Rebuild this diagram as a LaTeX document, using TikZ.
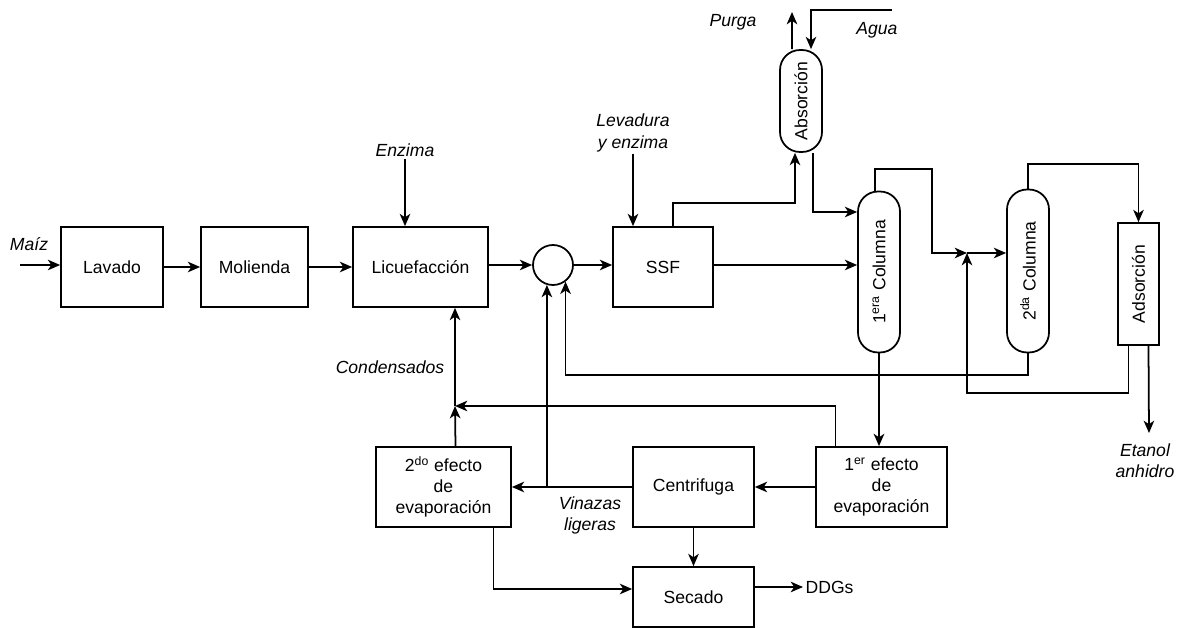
\documentclass[tikz,border=0pt]{standalone}
\usepackage{fontspec}
\setmainfont{Liberation Sans}
\usepackage{graphicx}
\usetikzlibrary{arrows.meta}
\begin{document}
\begin{tikzpicture}[x=0.02cm,y=-0.02cm,line width=1pt,
    font=\fontsize{10}{12}\selectfont,
    box/.style={draw,rectangle,minimum width=#1,minimum height=1.6cm,align=center,inner sep=1pt},
    tower/.style={draw,rounded corners=0.4cm,minimum width=0.84cm,minimum height=#1,inner sep=1pt},
    flow/.style={-{Stealth[length=7pt,width=6pt,inset=2pt]}},
    stream/.style={font=\fontsize{10}{12}\selectfont\itshape,align=center,inner sep=1pt}]
    \useasboundingbox (0,0) rectangle (1178,628);

    % main line
    \node[box=2.04cm] (lavado) at (112,267) {Lavado};
    \node[box=2.14cm] (molienda) at (254.5,267) {Molienda};
    \node[box=2.7cm] (licuef) at (420.5,267) {Licuefacción};
    \node[draw,circle,minimum size=0.8cm,inner sep=0pt] (mixer) at (553,265) {};
    \node[box=2cm] (ssf) at (663,267) {SSF};

    % columns
    \node[tower=2.04cm] (absorcion) at (801,101) {\rotatebox{90}{Absorción}};
    \node[tower=3.22cm] (col1) at (879,272) {\rotatebox{90}{1\textsuperscript{era} Columna}};
    \node[tower=3.26cm] (col2) at (1028,271) {\rotatebox{90}{2\textsuperscript{da} Columna}};
    \node[draw,minimum width=0.82cm,minimum height=2.44cm,inner sep=1pt] (adsorcion) at (1138.5,284) {\rotatebox{90}{Adsorción}};

    % bottom line
    \node[box=2.7cm] (efecto2) at (443.5,487) {2\textsuperscript{do} efecto\\de\\evaporación};
    \node[box=2.42cm] (centrifuga) at (693.5,487) {Centrifuga};
    \node[box=2.62cm] (efecto1) at (881.5,487) {1\textsuperscript{er} efecto\\de\\evaporación};
    \node[box=2.42cm,minimum height=1.2cm] (secado) at (693.5,597) {Secado};

    % streams
    \node[stream] (maiz) at (29,244) {Maíz};
    \coordinate (maizin) at (20,265);
    \node[stream] (enzima) at (405,150) {Enzima};
    \node[stream] (levadura) at (633,133) {Levadura\\y enzima};
    \node[stream] (purga) at (733,22) {Purga};
    \coordinate (purgaout) at (792,12);
    \node[stream] (agua) at (877,30) {Agua};
    \coordinate (aguain) at (892,10);
    \node[stream] (condensados) at (390,367) {Condensados};
    \coordinate (cond) at (455,406);
    \coordinate (mix2) at (967,253);
    \node[stream] (vinazas) at (590,515) {Vinazas\\ligeras};
    \coordinate (etanolout) at (1149,433);
    \node[stream,anchor=north] (etanol) at (1145,441) {Etanol\\anhidro};
    \node[anchor=west,inner sep=1pt] (ddgs) at (803,587) {DDGs};

    \draw[flow] (maizin) -- (lavado.west |- maizin);
    \draw[flow] (lavado) -- (molienda);
    \draw[flow] (molienda) -- (licuef);
    \draw[flow] (enzima) -- (enzima |- licuef.north);
    \draw[flow] (licuef.east |- mixer) -- (mixer);
    \draw[flow] (mixer) -- (mixer -| ssf.west);
    \draw[flow] (levadura) -- (levadura |- ssf.north);
    \draw[flow] ([xshift=0.2cm]ssf.north) |- (795,203) -- ([xshift=-0.12cm]absorcion.south);
    \draw[flow] ([xshift=-0.18cm]absorcion.north) -- (purgaout);
    \draw[flow] (aguain) -| ([xshift=0.2cm]absorcion.north);
    \draw[flow] ([xshift=0.24cm]absorcion.south) |- (col1.west |- 0,212);
    \draw[flow] (ssf.east |- mixer) -- (mixer -| col1.west);
    \draw[flow] ([xshift=-0.08cm]col1.north) |- (932,169) |- (mix2);
    \draw[flow] (mix2) -- (mix2 -| col2.west);
    \draw[flow] ([xshift=-0.2cm]adsorcion.south) |- (967,393) -- (mix2);
    \draw[flow] (col2.north) -- ++(0,-25) -| (adsorcion.north);
    \draw[flow] ([xshift=0.2cm]adsorcion.south) -- (etanolout);
    \draw[flow] (col2.south) -- ++(0,22) -| (mixer.-53);
    \draw[flow,line width=1.6pt] (col1.south) -- (col1.south |- efecto1.north);
    \draw[flow] ([xshift=-0.92cm]efecto1.north) |- (cond);
    \draw[flow] ([xshift=0.24cm]efecto2.north) -- (cond);
    \draw[flow] (cond) -- (cond |- licuef.south);
    \draw[flow] (efecto1) -- (centrifuga);
    \draw[flow] (centrifuga) -- (efecto2);
    \draw[flow] (mixer.-107 |- centrifuga.west) -- (mixer.-107);
    \draw[flow] (centrifuga) -- (secado);
    \draw[flow] ([xshift=1cm]efecto2.south) |- ([yshift=0.16cm]secado.west);
    \draw[flow] (secado.east |- ddgs) -- (ddgs);
\end{tikzpicture}
\end{document}
